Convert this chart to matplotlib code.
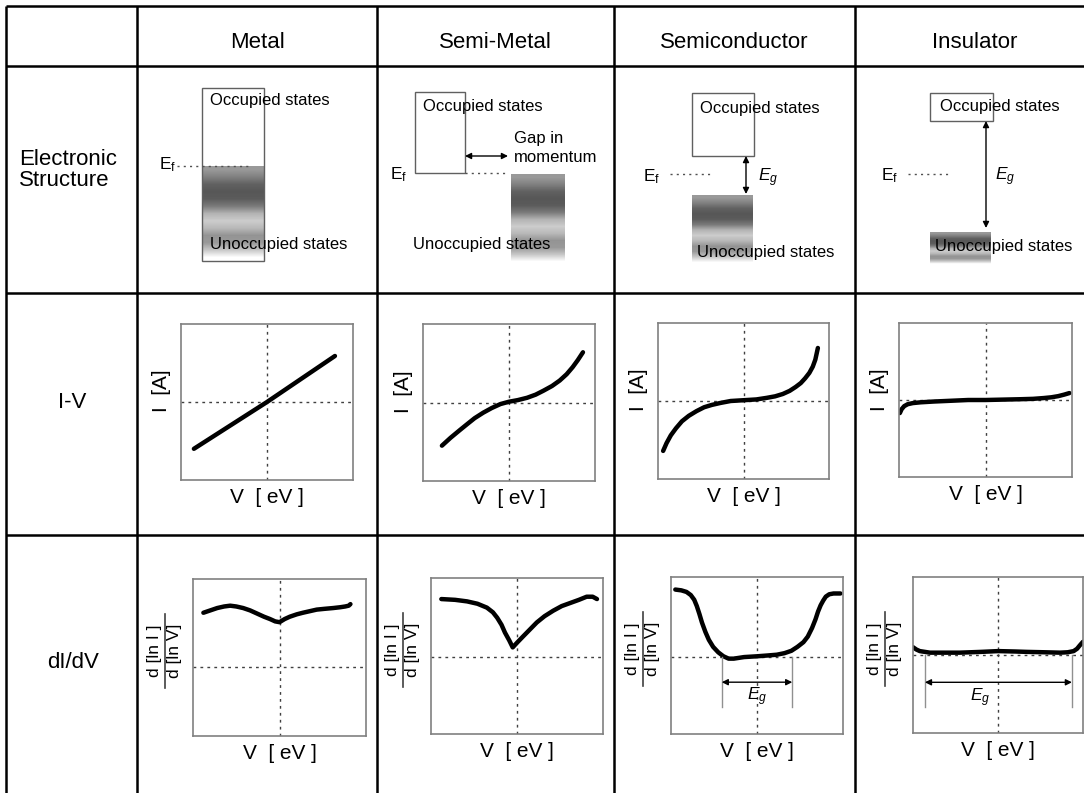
import matplotlib.pyplot as plt
from matplotlib.patches import Rectangle
import numpy as np

plt.rcParams['font.family'] = ['Liberation Sans', 'DejaVu Sans']
plt.rcParams['mathtext.fontset'] = 'custom'
plt.rcParams['mathtext.rm'] = 'Liberation Sans'
plt.rcParams['mathtext.it'] = 'Liberation Sans:italic'

W, H = 1084, 793

materials = ["Metal", "Semi-Metal", "Semiconductor", "Insulator"]
row_labels = ["Electronic\nStructure", "I-V", "dI/dV"]

# band sketches (sketch pixel units)
occ_x = [(202, 264), (415, 465), (692, 754), (930, 993)]
occ_y = [(88, 261), (92, 173), (93, 156), (93, 121)]
unocc_x = [(202, 264), (511, 565), (692, 753), (930, 991)]
unocc_y = [(166, 261), (174, 265), (195, 265), (232, 265)]
fermi_y = [166, 173, 174, 174]
fermi_dots = [(177, 250), (465, 508), (670, 710), (908, 948)]
shade = [0.6, 0.5, 0.38, 0.34, 0.36, 0.48, 0.7, 0.8, 0.72, 0.58, 0.6, 0.78, 1.0]

# I-V curves
iv_v = [
    [-0.85, 0.0, 0.79],
    [-0.78, -0.68, -0.57, -0.48, -0.40, -0.30, -0.20, -0.10, 0.0, 0.10, 0.21, 0.31, 0.40,
     0.50, 0.59, 0.67, 0.74, 0.80, 0.86],
    [-0.94, -0.90, -0.85, -0.79, -0.72, -0.64, -0.55, -0.46, -0.37, -0.27, -0.15, 0.0, 0.15,
     0.27, 0.37, 0.46, 0.54, 0.61, 0.67, 0.72, 0.77, 0.81, 0.84, 0.87],
    [-0.99, -0.97, -0.94, -0.90, -0.84, -0.75, -0.6, -0.4, -0.2, 0.0, 0.2, 0.4, 0.55, 0.67,
     0.76, 0.84, 0.91, 0.97],
]
iv_i = [
    [-0.60, 0.0, 0.59],
    [-0.55, -0.45, -0.35, -0.27, -0.20, -0.13, -0.07, -0.02, 0.01, 0.03, 0.06, 0.10, 0.15,
     0.21, 0.28, 0.36, 0.45, 0.54, 0.64],
    [-0.64, -0.54, -0.44, -0.35, -0.26, -0.19, -0.13, -0.08, -0.05, -0.025, 0.0, 0.01, 0.02,
     0.04, 0.06, 0.09, 0.13, 0.18, 0.23, 0.29, 0.36, 0.44, 0.53, 0.68],
    [-0.17, -0.12, -0.08, -0.055, -0.04, -0.03, -0.02, -0.01, 0.0, 0.0, 0.005, 0.01, 0.015,
     0.025, 0.035, 0.05, 0.07, 0.09],
]

# d[ln I]/d[ln V] curves
dd_v = [
    [-0.88, -0.80, -0.72, -0.64, -0.57, -0.50, -0.42, -0.34, -0.26, -0.18, -0.11, -0.05, 0.0,
     0.06, 0.12, 0.20, 0.27, 0.35, 0.43, 0.52, 0.62, 0.70, 0.76, 0.80, 0.82],
    [-0.88, -0.72, -0.58, -0.46, -0.35, -0.28, -0.23, -0.18, -0.14, -0.09, -0.05, 0.0, 0.07,
     0.15, 0.23, 0.32, 0.42, 0.52, 0.62, 0.72, 0.81, 0.88, 0.93],
    [-0.95, -0.88, -0.82, -0.77, -0.73, -0.70, -0.67, -0.64, -0.60, -0.56, -0.51, -0.45, -0.39,
     -0.33, -0.27, -0.15, 0.0, 0.12, 0.23, 0.32, 0.40, 0.47, 0.54, 0.59, 0.64, 0.68, 0.71,
     0.74, 0.77, 0.80, 0.84, 0.89, 0.97],
    [-1.0, -0.96, -0.92, -0.86, -0.8, -0.6, -0.45, -0.2, 0.0, 0.2, 0.34, 0.55, 0.73, 0.82,
     0.89, 0.93, 0.96, 1.0],
]
dd_y = [
    [0.69, 0.72, 0.75, 0.77, 0.78, 0.77, 0.75, 0.72, 0.68, 0.64, 0.61, 0.58, 0.57, 0.61, 0.64,
     0.67, 0.69, 0.71, 0.73, 0.74, 0.75, 0.76, 0.77, 0.78, 0.80],
    [0.74, 0.73, 0.71, 0.68, 0.63, 0.57, 0.50, 0.41, 0.31, 0.21, 0.12, 0.18, 0.26, 0.35, 0.44,
     0.52, 0.59, 0.65, 0.69, 0.73, 0.77, 0.77, 0.74],
    [0.86, 0.85, 0.83, 0.79, 0.73, 0.65, 0.55, 0.44, 0.32, 0.22, 0.13, 0.06, 0.01, -0.02,
     -0.02, 0.0, 0.01, 0.02, 0.03, 0.05, 0.08, 0.13, 0.19, 0.26, 0.37, 0.48, 0.58, 0.66,
     0.72, 0.77, 0.80, 0.81, 0.81],
    [0.10, 0.07, 0.05, 0.04, 0.03, 0.03, 0.03, 0.04, 0.05, 0.045, 0.04, 0.035, 0.03, 0.035,
     0.05, 0.08, 0.12, 0.17],
]
dd_ylim = [(-0.88, 1.12), (-0.99, 1.01), (-0.98, 1.02), (-1.0, 1.0)]

# band gap markers in dI/dV panels
eg_left = [None, None, -0.41, -0.86]
eg_right = [None, None, 0.41, 0.87]
eg_depth = [None, None, -0.64, -0.67]
eg_arrow = [None, None, -0.32, -0.35]
eg_text = [None, None, (0.0, -0.51), (-0.21, -0.55)]

col_x = [6, 137, 377, 614, 855, 1095]
row_y = [6, 66, 293, 535]
iv_boxes = [(181, 324, 353, 480), (423, 324, 595, 481), (658, 323, 829, 479), (899, 323, 1072, 477)]
dd_boxes = [(193, 579, 366, 736), (431, 578, 603, 734), (671, 577, 843, 734), (913, 577, 1083, 733)]

fig = plt.figure(figsize=(W / 100, H / 100), dpi=100)
base = fig.add_axes([0, 0, 1, 1])
base.axis('off')

# table
for y in row_y:
    base.plot([6, W], [y, y], color='black', lw=1.8, solid_capstyle='butt')
for x in col_x[:-1]:
    base.plot([x, x], [6, H], color='black', lw=1.8, solid_capstyle='butt')

for i, m in enumerate(materials):
    base.text((col_x[i + 1] + col_x[i + 2]) / 2, 43, m, ha='center', va='center', fontsize=16)
for lab, xc, yc in zip(row_labels, [68, 72, 73], [170, 403, 662]):
    base.text(xc, yc, lab, ha='center', va='center', fontsize=16, linespacing=1.05,
              multialignment='left')

# electronic structure sketches
arr = dict(arrowstyle='<|-|>', color='black', lw=1, mutation_scale=9, shrinkA=0, shrinkB=0)
occ_lab = [(210, 100), (423, 107), (700, 108), (940, 107)]
unocc_lab = [(210, 245), (413, 245), (697, 252), (935, 247)]
ef_lab = [(176, 165), (407, 175), (660, 177), (898, 176)]
for i in range(4):
    x0, x1 = unocc_x[i]
    y0, y1 = unocc_y[i]
    base.imshow(np.array(shade)[:, None], extent=(x0, x1, y1, y0), cmap='gray', vmin=0, vmax=1,
                aspect='auto', interpolation='bilinear', zorder=1)
    ox0, ox1 = occ_x[i]
    oy0, oy1 = occ_y[i]
    base.add_patch(Rectangle((ox0, oy0), ox1 - ox0, oy1 - oy0, fill=False, ec='#606060', lw=1, zorder=2))
    base.plot(fermi_dots[i], [fermi_y[i]] * 2, ls=(0, (1.5, 3)), color='#505050', lw=1, zorder=3)
    base.text(*ef_lab[i], r'$\mathregular{E_f}$', ha='right', va='center', fontsize=12.5, zorder=4)
    base.text(*occ_lab[i], 'Occupied states', ha='left', va='center', fontsize=12, zorder=4)
    base.text(*unocc_lab[i], 'Unoccupied states', ha='left', va='center', fontsize=12, zorder=4)

base.annotate('', xy=(508, 156), xytext=(465, 156), arrowprops=arr)
base.text(514, 139, 'Gap in', ha='left', va='center', fontsize=12)
base.text(514, 158, 'momentum', ha='left', va='center', fontsize=12)
base.annotate('', xy=(746, 194), xytext=(746, 156), arrowprops=arr)
base.text(758, 178, '$E_g$', ha='left', va='center', fontsize=12.5)
base.annotate('', xy=(986, 228), xytext=(986, 121), arrowprops=arr)
base.text(995, 177, '$E_g$', ha='left', va='center', fontsize=12.5)

base.set_xlim(0, W)
base.set_ylim(H, 0)


def panel(box):
    x0, y0, x1, y1 = box
    ax = fig.add_axes([x0 / W, 1 - y1 / H, (x1 - x0) / W, (y1 - y0) / H])
    ax.set_xticks([])
    ax.set_yticks([])
    for s in ax.spines.values():
        s.set_color('#808080')
        s.set_linewidth(1.2)
    ax.axhline(0, ls=(0, (2, 3)), color='#404040', lw=1)
    ax.axvline(0, ls=(0, (2, 3)), color='#404040', lw=1)
    ax.set_xlim(-1, 1)
    ax.annotate('V  [ eV ]', xy=(0.5, 0), xycoords='axes fraction', xytext=(0, -12.5),
                textcoords='offset points', ha='center', va='center', fontsize=15)
    return ax


for i in range(4):
    ax = panel(iv_boxes[i])
    ax.set_ylim(-1, 1)
    ax.plot(iv_v[i], iv_i[i], color='black', lw=3.2, solid_capstyle='round', solid_joinstyle='round')
    ax.annotate('I  [A]', xy=(0, 0.57), xycoords='axes fraction', xytext=(-14, 0),
                textcoords='offset points', ha='center', va='center', fontsize=15, rotation=90)

    ax = panel(dd_boxes[i])
    ax.set_ylim(*dd_ylim[i])
    ax.plot(dd_v[i], dd_y[i], color='black', lw=3.2, solid_capstyle='round', solid_joinstyle='round')
    ax.annotate('d [ln I ]', xy=(0, 0.54), xycoords='axes fraction', xytext=(-28, 0),
                textcoords='offset points', ha='center', va='center', fontsize=12.5, rotation=90)
    ax.annotate('d [ln V]', xy=(0, 0.54), xycoords='axes fraction', xytext=(-13, 0),
                textcoords='offset points', ha='center', va='center', fontsize=12.5, rotation=90)
    x0, y0, x1, y1 = dd_boxes[i]
    yc = y1 - 0.54 * (y1 - y0)
    base.plot([x0 - 28, x0 - 28], [yc - 37, yc + 37], color='#404040', lw=1.2)
    if eg_left[i] is not None:
        for xe in (eg_left[i], eg_right[i]):
            ax.plot([xe, xe], [0, eg_depth[i]], color='#909090', lw=1)
        ax.annotate('', xy=(eg_right[i], eg_arrow[i]), xytext=(eg_left[i], eg_arrow[i]), arrowprops=arr)
        ax.text(*eg_text[i], '$E_g$', ha='center', va='center', fontsize=12.5)

fig.savefig('out.png', dpi=100)
